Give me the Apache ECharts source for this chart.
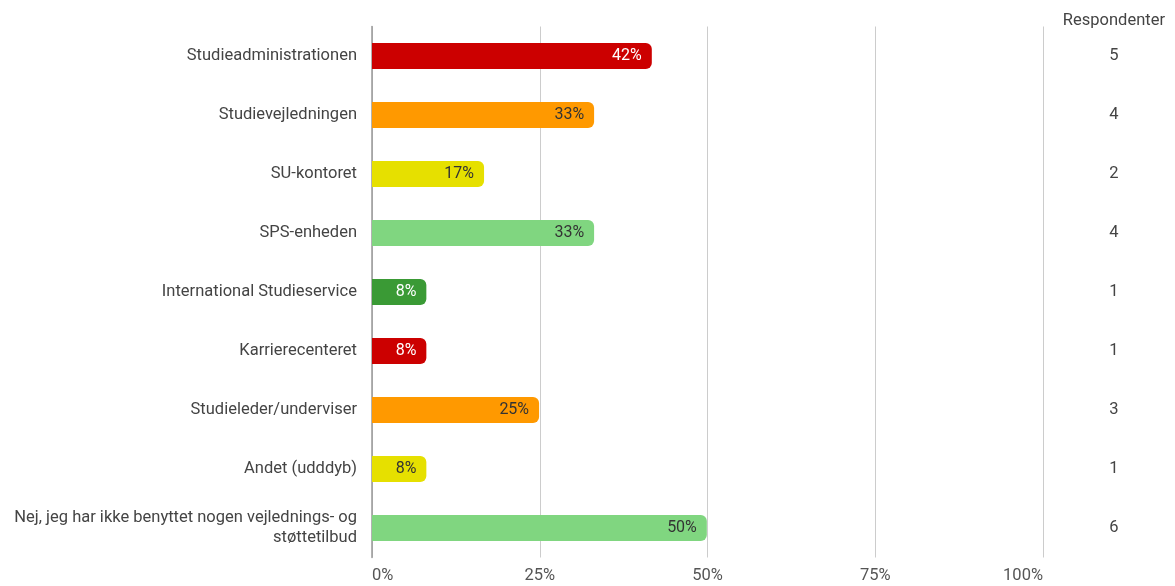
<!DOCTYPE html>
<html>
<head>
<meta charset="utf-8">
<script src="https://cdn.jsdelivr.net/npm/echarts@6/dist/echarts.min.js"></script>
<style>
html,body{margin:0;padding:0;background:#fff;}
#chart{width:1175px;height:586px;}
</style>
</head>
<body>
<div id="chart"></div>
<script>
var categories = [
  'Studieadministrationen',
  'Studievejledningen',
  'SU-kontoret',
  'SPS-enheden',
  'International Studieservice',
  'Karrierecenteret',
  'Studieleder/underviser',
  'Andet (udddyb)',
  'Nej, jeg har ikke benyttet nogen vejlednings- og\nstøttetilbud'
];
var percentages = [41.7, 33.1, 16.7, 33.1, 8.1, 8.1, 24.9, 8.1, 49.9];
var respondents = [5, 4, 2, 4, 1, 1, 3, 1, 6];
var barColors = ['#cc0000', '#ff9900', '#e6e000', '#80d680', '#3a9a35', '#cc0000', '#ff9900', '#e6e000', '#80d680'];
var labelColors = ['#ffffff', '#333333', '#333333', '#333333', '#ffffff', '#ffffff', '#333333', '#333333', '#333333'];
var xTicks = [0, 25, 50, 75, 100];

var chart = echarts.init(document.getElementById('chart'));
var font = 'Roboto, "Noto Sans", sans-serif';
chart.setOption({
  animation: false,
  textStyle: {fontFamily: font},
  title: {
    text: 'Respondenter',
    right: 5, top: 7,
    textStyle: {fontSize: 16.5, fontWeight: 'normal', color: '#444', fontFamily: font}
  },
  grid: {left: 372, right: 132, top: 26.5, bottom: 28.5, containLabel: false},
  xAxis: {
    type: 'value', min: xTicks[0], max: xTicks[xTicks.length - 1], interval: 25,
    axisLine: {show: false}, axisTick: {show: false},
    splitLine: {lineStyle: {color: '#cccccc', width: 1}},
    axisLabel: {
      formatter: function (v) { return v + '%'; },
      color: '#555', fontSize: 16.5, margin: 10,
      alignMinLabel: 'left', alignMaxLabel: 'right'
    }
  },
  yAxis: [{
    type: 'category', data: categories, inverse: true,
    axisLine: {show: true, lineStyle: {color: '#999', width: 1.5}},
    axisTick: {show: false},
    axisLabel: {color: '#444', fontSize: 16.5, margin: 15, lineHeight: 20, align: 'right'}
  }, {
    type: 'category', data: respondents.map(String), inverse: true, position: 'right',
    axisLine: {show: false}, axisTick: {show: false},
    axisLabel: {color: '#444', fontSize: 16.5, margin: 71, align: 'center'}
  }],
  series: [{
    type: 'bar',
    data: percentages.map(function (v, i) {
      return {
        value: v,
        itemStyle: {color: barColors[i]},
        label: {color: labelColors[i]}
      };
    }),
    barWidth: 26,
    itemStyle: {borderRadius: [0, 6, 6, 0]},
    label: {
      show: true, position: 'insideRight', distance: 10, fontSize: 16,
      formatter: function (p) { return Math.round(p.value) + '%'; }
    }
  }]
});
</script>
</body>
</html>
